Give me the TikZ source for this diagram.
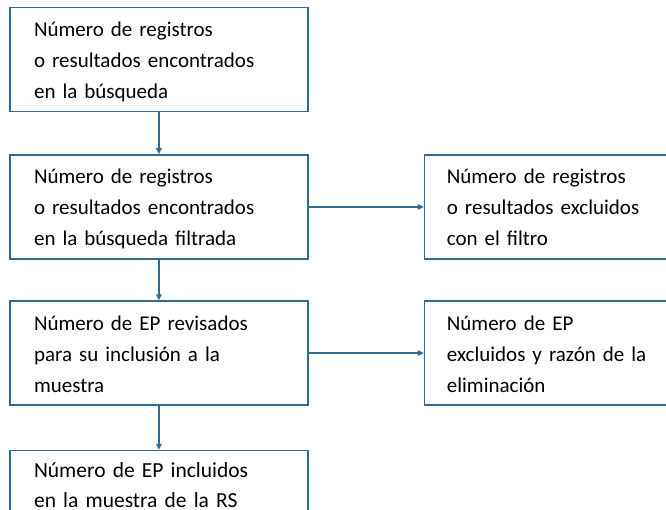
\documentclass[tikz,border=0pt]{standalone}
\usepackage{fontspec}
\setmainfont{Carlito}[WordSpace=0.8]
\usepackage{tikz}
\usetikzlibrary{positioning}
\usetikzlibrary{arrows.meta}
\definecolor{flowblue}{RGB}{46,108,145}

\begin{document}
\begin{tikzpicture}[node distance={42pt and 115.3pt}, line width=1.5pt,
  >={Triangle[length=6pt,width=5.5pt]},
  main/.style = {draw=flowblue, rectangle, minimum height=104pt, text width=249.7pt,
    inner xsep=24pt, align=left, text height=21pt, text depth=67pt,
    font=\fontsize{21}{31}\selectfont},
  side/.style = {main, text width=198pt, inner xsep=22.35pt}]
\useasboundingbox (-9.3pt,6.7pt) rectangle (656.7pt,-503.3pt);
\node[main, anchor=north west] (A) at (0,0) {Número de registros\\ o resultados encontrados\\ en la búsqueda};
\node[main] (B) [below=of A] {Número de registros\\ o resultados encontrados\\ en la búsqueda filtrada};
\node[main] (C) [below=40.6pt of B] {Número de EP revisados\\ para su inclusión a la\\ muestra};
\node[main, text height=16pt, font=\fontsize{21.5}{30}\selectfont] (D) [below=44pt of C] {Número de EP incluidos\\ en la muestra de la RS};
\node[side] (E) [right=of B] {Número de registros\\ o resultados excluidos\\ con el filtro};
\node[side] (F) [right=of C] {Número de EP\\ excluidos~y~razón~de~la\\ eliminación};
\draw[->, flowblue] (A) -- (B);
\draw[->, flowblue] (B) -- (C);
\draw[->, flowblue] (C) -- (D);
\draw[->, flowblue] (B) -- (E);
\draw[->, flowblue] (C) -- (F);
\end{tikzpicture}
\end{document}
